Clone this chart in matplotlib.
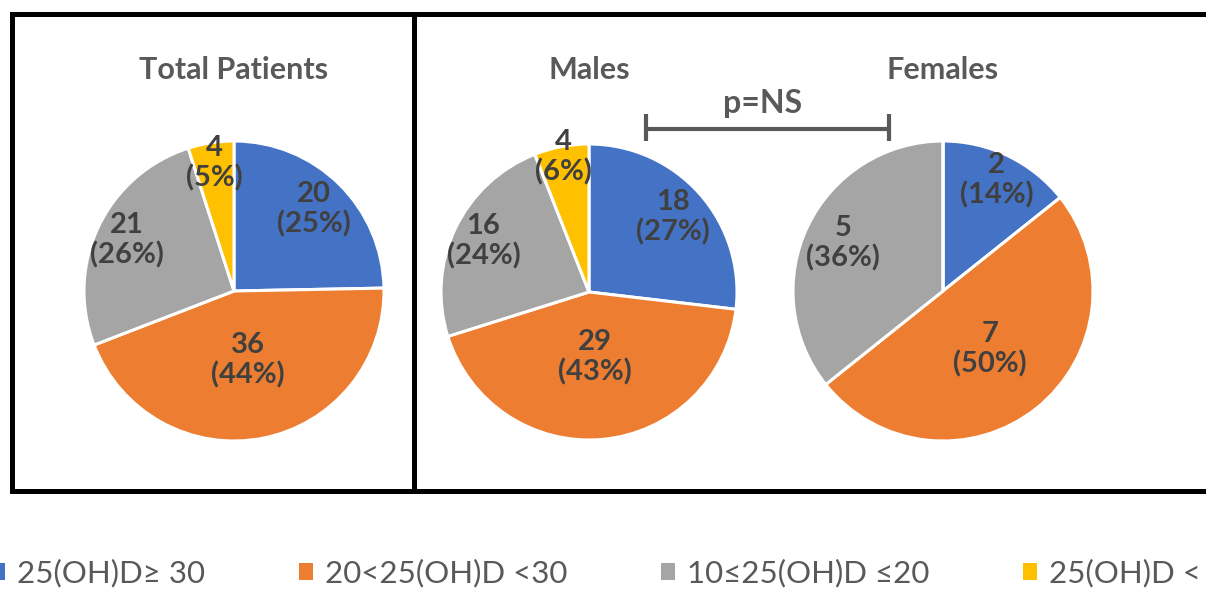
import math
import matplotlib
matplotlib.use("Agg")
import matplotlib.pyplot as plt
from matplotlib.patches import Patch

plt.rcParams['font.family'] = ['Lato', 'DejaVu Sans']

# ---- data ----
categories = ["25(OH)D\u2265 30", "20<25(OH)D <30", "10\u226425(OH)D \u226420", "25(OH)D < 10"]
total_counts = [20, 36, 21, 4]
male_counts = [18, 29, 16, 4]
female_counts = [2, 7, 5, 0]
panel_titles = ["Total Patients", "Males", "Females"]
stat_label = "p=NS"

colors = ["#4472C4", "#ED7D31", "#A5A5A5", "#FFC000"]
label_color = "#404040"
title_color = "#595959"

W, H = 1206, 590
fig = plt.figure(figsize=(W / 100, H / 100), dpi=100)

# overlay axes in pixel coordinates for frames / bracket
ov = fig.add_axes([0, 0, 1, 1], zorder=0)
ov.set_xlim(0, W)
ov.set_ylim(H, 0)
ov.axis('off')

lw_frame = 3.6
ov.plot([12, 12, 414, 414, 12], [14, 491, 491, 14, 14], color='black', lw=lw_frame,
        solid_joinstyle='miter', solid_capstyle='projecting')
ov.plot([414, W + 5], [14, 14], color='black', lw=lw_frame, solid_capstyle='projecting')
ov.plot([414, W + 5], [491, 491], color='black', lw=lw_frame, solid_capstyle='projecting')

# significance bracket
ov.plot([646, 889], [129, 129], color=title_color, lw=3.0, solid_capstyle='butt')
ov.plot([646, 646], [114, 141], color=title_color, lw=3.0, solid_capstyle='butt')
ov.plot([889, 889], [114, 141], color=title_color, lw=3.0, solid_capstyle='butt')
ov.text(763, 104, stat_label, ha='center', va='center', fontsize=23,
        fontweight='bold', color=title_color)

panels = [
    (panel_titles[0], total_counts, (234, 291, 150), [0.76, 0.47, 0.79, 0.86]),
    (panel_titles[1], male_counts, (589, 292, 148), [0.76, 0.44, 0.79, 0.93]),
    (panel_titles[2], female_counts, (943, 291, 150), [0.82, 0.50, 0.74, 0.90]),
]

for title, counts, (cx, cy, r), fracs in panels:
    ax = fig.add_axes([(cx - r) / W, (H - cy - r) / H, 2 * r / W, 2 * r / H], zorder=2)
    wedges, _ = ax.pie(counts, colors=colors, startangle=90, counterclock=False,
                       radius=1.0, wedgeprops=dict(edgecolor='white', linewidth=2.2))
    ax.set_xlim(-1, 1)
    ax.set_ylim(-1, 1)
    ax.set_aspect('auto')
    ax.axis('off')
    total = sum(counts)
    for w, c, f in zip(wedges, counts, fracs):
        if c == 0:
            continue
        a = math.radians((w.theta1 + w.theta2) / 2)
        pct = round(100 * c / total)
        ax.text(f * math.cos(a), f * math.sin(a), f"{c}\n({pct}%)", ha='center',
                va='center', fontsize=21, fontweight='bold', color=label_color,
                linespacing=1.15, clip_on=False)
    ax.text(0, (cy - 70) / r, title, ha='center', va='center',
            fontsize=22, fontweight='bold', color=title_color, clip_on=False)

handles = [Patch(facecolor=c, edgecolor='none') for c in colors]
leg = fig.legend(handles, categories, ncol=4, loc='center left',
                 bbox_to_anchor=(-9 / W, 1 - 573 / H), frameon=False,
                 fontsize=22.5, handlelength=0.45, handleheight=0.45,
                 handletextpad=0.38, columnspacing=3.0, borderpad=0,
                 borderaxespad=0)
for t in leg.get_texts():
    t.set_color(title_color)

fig.savefig("out.png", dpi=100)
